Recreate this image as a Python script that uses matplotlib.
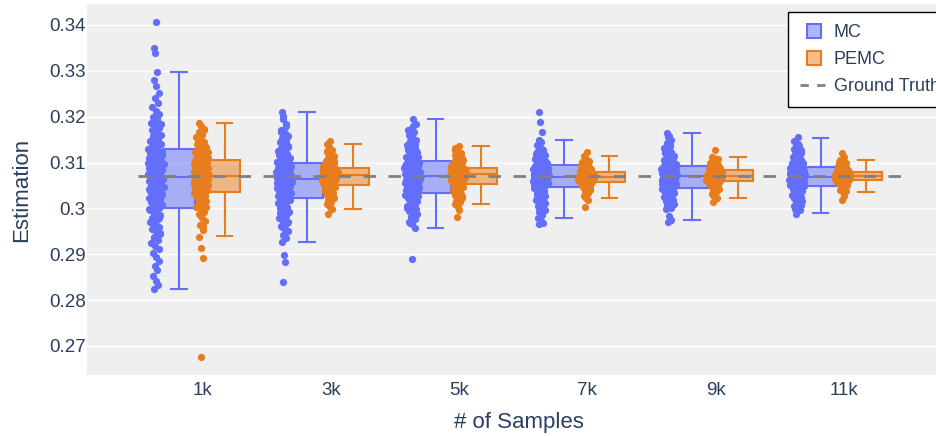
import numpy as np
import matplotlib
matplotlib.use("Agg")
import matplotlib.pyplot as plt
from matplotlib.lines import Line2D

plt.rcParams["font.family"] = ["Liberation Sans", "DejaVu Sans"]

# 类别
categories = ["1k", "3k", "5k", "7k", "9k", "11k"]
ground_truth = 0.3070

# 样本点 (单位 1e-4)
mc_1k = [2824, 2833, 2841, 2852, 2866, 2874, 2885, 2893, 2902, 2911, 2918, 2925, 2931, 2938, 2944,
         2950, 2955, 2960, 2965, 2970, 2975, 2980, 2985, 2990, 2996,
         3001, 3004, 3008, 3011, 3014, 3017, 3020, 3023, 3026, 3029, 3032, 3035, 3038, 3041, 3044,
         3046, 3049, 3052, 3054, 3057, 3059, 3061, 3063, 3065, 3067,
         3069, 3071, 3074, 3076, 3079, 3081, 3083, 3086, 3088, 3091, 3093, 3096, 3098, 3101, 3104,
         3106, 3109, 3111, 3114, 3116, 3119, 3121, 3124, 3126, 3129,
         3132, 3136, 3140, 3144, 3148, 3152, 3157, 3161, 3166, 3171, 3176, 3181, 3187, 3193, 3199,
         3206, 3213, 3221, 3230, 3240, 3252, 3266, 3280, 3298, 3338, 3349, 3406,
         2935, 2947, 2958, 2968, 2978, 2988, 2998, 3006, 3016, 3027, 3036, 3043, 3051, 3060, 3066,
         3073, 3078, 3085, 3092, 3099, 3107, 3113, 3122, 3134, 3146, 3158, 3169, 3184, 3196]
mc_3k = [2840, 2884, 2898, 2926, 2935, 2943, 2950, 2956, 2962, 2968, 2973, 2978, 2983, 2988, 2992,
         2996, 3000, 3004, 3008, 3012, 3016, 3020,
         3024, 3026, 3028, 3030, 3032, 3034, 3036, 3038, 3040, 3042, 3044, 3046, 3047, 3049, 3051,
         3053, 3055, 3057, 3058, 3060, 3062, 3063,
         3065, 3067, 3068, 3070, 3072, 3073, 3075, 3077, 3078, 3080, 3081, 3083, 3085, 3086, 3088,
         3090, 3091, 3093, 3095, 3096, 3098, 3099,
         3101, 3104, 3107, 3110, 3113, 3116, 3119, 3122, 3125, 3129, 3132, 3136, 3140, 3144, 3148,
         3153, 3158, 3164, 3170, 3180, 3195, 3211,
         2947, 2959, 2970, 2981, 2990, 2999, 3010, 3018, 3025, 3033, 3041, 3048, 3056, 3061, 3066,
         3071, 3076, 3082, 3087, 3094, 3102, 3111, 3121, 3134, 3150, 3167, 3185, 3202]
mc_5k = [2890, 2958, 2965, 2971, 2977, 2982, 2987, 2991, 2995, 2999, 3003, 3006, 3009, 3013, 3016,
         3019, 3022, 3025, 3028, 3030, 3033,
         3035, 3037, 3039, 3041, 3042, 3044, 3046, 3048, 3049, 3051, 3053, 3055, 3056, 3058, 3060,
         3061, 3063, 3065, 3066, 3068, 3069,
         3071, 3073, 3074, 3076, 3077, 3079, 3080, 3082, 3083, 3085, 3086, 3088, 3090, 3091, 3093,
         3094, 3096, 3097, 3099, 3100, 3102,
         3104, 3107, 3110, 3113, 3116, 3119, 3122, 3125, 3128, 3131, 3134, 3138, 3142, 3146, 3150,
         3155, 3160, 3166, 3174, 3185, 3195,
         2968, 2980, 2993, 3001, 3011, 3020, 3027, 3036, 3043, 3050, 3057, 3064, 3070, 3075, 3081,
         3087, 3092, 3098, 3105, 3112, 3120, 3129, 3140, 3152, 3170, 3180]
mc_7k = [2966, 2969, 2972, 2980, 2986, 2992, 2997, 3002, 3006, 3010, 3014, 3018, 3021, 3024, 3027,
         3031, 3035, 3038, 3042, 3045,
         3048, 3049, 3050, 3051, 3052, 3053, 3054, 3055, 3056, 3057, 3058, 3059, 3060, 3061, 3063,
         3064, 3065, 3066, 3067, 3068,
         3070, 3071, 3072, 3074, 3075, 3076, 3077, 3079, 3080, 3081, 3082, 3084, 3085, 3086, 3088,
         3089, 3090, 3092, 3093, 3094,
         3096, 3098, 3100, 3102, 3104, 3106, 3108, 3111, 3114, 3117, 3120, 3124, 3128, 3133, 3139,
         3145, 3149, 3166, 3189, 3211,
         2990, 3000, 3012, 3020, 3029, 3036, 3044, 3050, 3055, 3060, 3065, 3069, 3073, 3078, 3083,
         3087, 3091, 3097, 3103, 3110, 3119, 3130, 3142]
mc_9k = [2971, 2975, 2983, 2998, 3002, 3006, 3010, 3013, 3016, 3019, 3022, 3025, 3028, 3030, 3033,
         3035, 3037, 3039, 3041, 3043,
         3045, 3046, 3048, 3049, 3050, 3052, 3053, 3054, 3056, 3057, 3058, 3060, 3061, 3062, 3064,
         3065, 3066, 3068, 3069, 3070,
         3072, 3073, 3074, 3075, 3076, 3077, 3078, 3079, 3080, 3081, 3083, 3084, 3085, 3086, 3087,
         3088, 3089, 3090, 3091, 3092,
         3094, 3096, 3098, 3100, 3102, 3104, 3106, 3108, 3111, 3114, 3117, 3120, 3123, 3127, 3131,
         3136, 3142, 3150, 3158, 3165,
         3000, 3008, 3015, 3024, 3032, 3040, 3047, 3053, 3059, 3064, 3069, 3074, 3078, 3082, 3086,
         3090, 3095, 3101, 3109, 3118, 3128, 3140, 3155]
mc_11k = [2988, 2996, 3001, 3006, 3010, 3013, 3016, 3019, 3022, 3025, 3028, 3030, 3033, 3035, 3038,
          3040, 3042, 3045, 3047,
          3050, 3051, 3052, 3053, 3054, 3055, 3056, 3057, 3058, 3059, 3060, 3061, 3062, 3063, 3064,
          3065, 3066, 3067, 3068,
          3070, 3071, 3072, 3073, 3074, 3075, 3077, 3078, 3079, 3080, 3081, 3082, 3084, 3085, 3086,
          3087, 3088, 3089, 3090,
          3092, 3094, 3096, 3098, 3100, 3102, 3104, 3106, 3109, 3112, 3115, 3118, 3121, 3125, 3130,
          3135, 3141, 3148, 3155,
          2999, 3008, 3018, 3027, 3036, 3043, 3049, 3054, 3059, 3064, 3069, 3074, 3079, 3083, 3088,
          3093, 3099, 3107, 3117, 3128, 3140]

pemc_1k = [2677, 2891, 2913, 2938, 2952, 2963, 2972, 2980, 2987, 2993, 2999, 3004, 3009, 3013, 3017,
           3021, 3025, 3028, 3031, 3034,
           3036, 3038, 3040, 3042, 3044, 3046, 3048, 3050, 3052, 3054, 3056, 3058, 3060, 3062, 3063,
           3065, 3066, 3068, 3069, 3070,
           3072, 3074, 3075, 3077, 3079, 3081, 3083, 3085, 3087, 3089, 3091, 3093, 3095, 3097, 3099,
           3100, 3102, 3103, 3104, 3105,
           3108, 3110, 3113, 3115, 3118, 3121, 3124, 3127, 3130, 3133, 3137, 3141, 3145, 3150, 3155,
           3161, 3167, 3174, 3180, 3187,
           2960, 2985, 3002, 3015, 3026, 3037, 3045, 3053, 3061, 3069, 3076, 3084, 3092, 3101, 3111,
           3122, 3135, 3152, 3170]
pemc_3k = [2987, 2998, 3004, 3010, 3015, 3019, 3023, 3027, 3030, 3033, 3036, 3039, 3041, 3044, 3046,
           3048, 3050,
           3052, 3053, 3055, 3056, 3058, 3059, 3060, 3062, 3063, 3064, 3066, 3067, 3068, 3069, 3070,
           3071, 3072,
           3074, 3075, 3076, 3077, 3078, 3079, 3080, 3080, 3081, 3082, 3083, 3083, 3084, 3085, 3085,
           3086, 3086,
           3088, 3090, 3092, 3094, 3096, 3098, 3101, 3104, 3107, 3110, 3114, 3118, 3122, 3127, 3133,
           3140, 3146,
           3012, 3025, 3035, 3043, 3049, 3054, 3061, 3065, 3070, 3073, 3078, 3084, 3089, 3095, 3103,
           3112, 3125]
pemc_5k = [2982, 2997, 3003, 3009, 3014, 3018, 3022, 3026, 3029, 3032, 3035, 3038, 3041, 3044, 3047,
           3049, 3052,
           3054, 3055, 3057, 3058, 3059, 3061, 3062, 3063, 3065, 3066, 3067, 3069, 3070, 3071, 3072,
           3073, 3074,
           3076, 3076, 3077, 3078, 3078, 3079, 3080, 3080, 3081, 3082, 3082, 3083, 3084, 3084, 3085,
           3086, 3086,
           3088, 3090, 3092, 3094, 3096, 3098, 3100, 3102, 3104, 3107, 3110, 3113, 3117, 3121, 3126,
           3131, 3137,
           3016, 3028, 3037, 3045, 3051, 3056, 3062, 3067, 3072, 3077, 3081, 3087, 3091, 3097, 3105,
           3115, 3128]
pemc_7k = [3002, 3018, 3022, 3028, 3033, 3037, 3041, 3044, 3047, 3049, 3051, 3053, 3055, 3056, 3057,
           3058, 3059, 3060, 3061, 3062, 3062, 3063, 3064, 3065, 3065, 3066, 3067, 3067, 3068, 3068,
           3069, 3070, 3071, 3071, 3072, 3073, 3073, 3074, 3075, 3076, 3076, 3077, 3078, 3079, 3079,
           3081, 3082, 3084, 3085, 3087, 3089, 3091, 3093, 3095, 3098, 3101, 3104, 3108, 3114, 3124,
           3030, 3043, 3050, 3055, 3059, 3063, 3066, 3069, 3072, 3075, 3078, 3083, 3088, 3094, 3102]
pemc_9k = [3015, 3022, 3027, 3032, 3036, 3040, 3043, 3046, 3049, 3051, 3053, 3055, 3057, 3058, 3059,
           3060, 3061, 3062, 3063, 3063, 3064, 3065, 3066, 3066, 3067, 3068, 3068, 3069, 3070, 3070,
           3072, 3072, 3073, 3074, 3075, 3076, 3077, 3077, 3078, 3079, 3080, 3081, 3082, 3082, 3083,
           3085, 3086, 3088, 3089, 3091, 3093, 3095, 3097, 3099, 3101, 3104, 3107, 3110, 3113, 3127,
           3030, 3042, 3050, 3056, 3061, 3065, 3069, 3073, 3076, 3080, 3084, 3090, 3096, 3105]
pemc_11k = [3018, 3027, 3036, 3040, 3044, 3047, 3050, 3052, 3054, 3055, 3057, 3058, 3059, 3060, 3061,
            3062, 3063, 3063, 3064, 3065, 3065, 3066, 3067, 3067, 3068, 3068, 3069, 3069, 3070, 3070,
            3071, 3072, 3072, 3073, 3074, 3074, 3075, 3075, 3076, 3077, 3077, 3078, 3078, 3079, 3079,
            3081, 3082, 3083, 3084, 3086, 3087, 3089, 3091, 3093, 3095, 3097, 3100, 3103, 3106, 3112,
            3120, 3038, 3048, 3054, 3058, 3062, 3066, 3069, 3072, 3075, 3078, 3082, 3088, 3094, 3101]

mc_points = [mc_1k, mc_3k, mc_5k, mc_7k, mc_9k, mc_11k]
pemc_points = [pemc_1k, pemc_3k, pemc_5k, pemc_7k, pemc_9k, pemc_11k]

# 箱线图统计量
mc_whislo = [0.2824, 0.2926, 0.2958, 0.2980, 0.2975, 0.2989]
mc_q1 = [0.3000, 0.3023, 0.3034, 0.3047, 0.3044, 0.3049]
mc_med = [0.3068, 0.3064, 0.3070, 0.3069, 0.3071, 0.3069]
mc_q3 = [0.3130, 0.3100, 0.3103, 0.3095, 0.3093, 0.3091]
mc_whishi = [0.3298, 0.3211, 0.3195, 0.3149, 0.3165, 0.3154]

pemc_whislo = [0.2940, 0.2998, 0.3009, 0.3022, 0.3022, 0.3036]
pemc_q1 = [0.3035, 0.3051, 0.3053, 0.3058, 0.3060, 0.3062]
pemc_med = [0.3071, 0.3073, 0.3075, 0.3069, 0.3071, 0.3071]
pemc_q3 = [0.3106, 0.3087, 0.3087, 0.3080, 0.3084, 0.3080]
pemc_whishi = [0.3186, 0.3140, 0.3135, 0.3114, 0.3113, 0.3106]

yticks = [0.27, 0.28, 0.29, 0.30, 0.31, 0.32, 0.33, 0.34]
ytick_labels = ["0.27", "0.28", "0.29", "0.3", "0.31", "0.32", "0.33", "0.34"]

MC_COLOR = "#636efa"
PEMC_COLOR = "#e87d1e"
TEXT_COLOR = "#2a3f5f"


def jitter(vals, half_width):
    v = np.asarray(vals, dtype=float)
    bw = max(np.std(v) * 0.35, 4.0)
    dens = np.array([np.sum(np.abs(v - x) < bw) for x in v], dtype=float)
    dens = np.sqrt(dens / dens.max())
    k = np.arange(len(v))
    u = ((k * 0.6180339887 + 0.27) % 1.0) * 2 - 1
    return u * half_width * dens


def draw_series(ax, pts, whislo, q1, med, q3, whishi, color, box_off, pt_off):
    x = np.arange(len(categories))
    stats = []
    for i in range(len(categories)):
        stats.append(dict(whislo=whislo[i], q1=q1[i], med=med[i], q3=q3[i],
                          whishi=whishi[i], fliers=[]))
    rgb = matplotlib.colors.to_rgb(color)
    ax.bxp(stats, positions=x + box_off, widths=0.245, patch_artist=True,
           showfliers=False, manage_ticks=False,
           boxprops=dict(facecolor=(*rgb, 0.5), edgecolor=color, linewidth=1.5),
           medianprops=dict(color=color, linewidth=1.5),
           whiskerprops=dict(color=color, linewidth=1.5),
           capprops=dict(color=color, linewidth=1.5), zorder=2)
    for i, p in enumerate(pts):
        vals = np.array(p) / 10000.0
        xs = x[i] + pt_off + jitter(p, 0.066)
        ax.scatter(xs, vals, s=27, color=color, linewidths=0, zorder=3)


fig = plt.figure(figsize=(9.37, 4.36), dpi=100)
ax = fig.add_axes([87 / 937, 1 - 375 / 436, 850 / 937, 371 / 436])
ax.set_facecolor("#efefef")

draw_series(ax, mc_points, mc_whislo, mc_q1, mc_med, mc_q3, mc_whishi, MC_COLOR, -0.183, -0.365)
draw_series(ax, pemc_points, pemc_whislo, pemc_q1, pemc_med, pemc_q3, pemc_whishi, PEMC_COLOR, 0.172, -0.01)

ax.plot([-0.5, len(categories) - 0.5], [ground_truth, ground_truth], color="#808080",
        linewidth=2, linestyle=(0, (4.5, 4.5)), zorder=4)

ax.set_xlim(-0.9, 5.725)
ax.set_ylim(0.26367, 0.34457)
ax.set_xticks(np.arange(len(categories)))
ax.set_xticklabels(categories)
ax.set_yticks(yticks)
ax.set_yticklabels(ytick_labels)
ax.tick_params(axis="both", length=0, labelsize=13.5, colors=TEXT_COLOR)
ax.tick_params(axis="x", pad=5)
ax.tick_params(axis="y", pad=1)
ax.grid(axis="y", color="white", linewidth=1)
ax.set_axisbelow(True)
for s in ax.spines.values():
    s.set_visible(False)

ax.set_xlabel("# of Samples", fontsize=16, color=TEXT_COLOR, va="center")
ax.xaxis.set_label_coords(0.508, -0.129)
ax.set_ylabel("Estimation", fontsize=16, color=TEXT_COLOR, va="center")
ax.yaxis.set_label_coords(-0.077, 0.5)

mc_rgb = matplotlib.colors.to_rgb(MC_COLOR)
pemc_rgb = matplotlib.colors.to_rgb(PEMC_COLOR)
handles = [
    Line2D([], [], marker="s", markersize=10, linestyle="none",
           markerfacecolor=(*mc_rgb, 0.5), markeredgecolor=MC_COLOR, markeredgewidth=1.5),
    Line2D([], [], marker="s", markersize=10, linestyle="none",
           markerfacecolor=(*pemc_rgb, 0.5), markeredgecolor=PEMC_COLOR, markeredgewidth=1.5),
    Line2D([], [], color="#808080", linewidth=2, linestyle=(0, (3, 3))),
]
leg = fig.legend(handles, ["MC", "PEMC", "Ground Truth"], loc="upper left",
                 bbox_to_anchor=(788 / 937, 1 - 12 / 436), fontsize=13,
                 frameon=True, fancybox=False, handlelength=1.5, handletextpad=0.35,
                 labelspacing=0.55, borderpad=0.68, borderaxespad=0, labelcolor=TEXT_COLOR)
leg.get_frame().set_edgecolor("black")
leg.get_frame().set_linewidth(1)
leg.get_frame().set_facecolor("white")
leg.get_frame().set_alpha(1)

fig.savefig("out.png", dpi=100)
plt.close(fig)
